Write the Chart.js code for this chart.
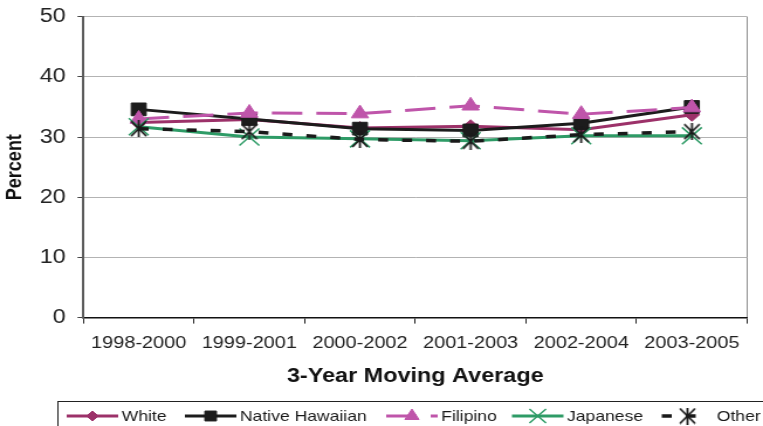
<!DOCTYPE html>
<html><head><meta charset="utf-8">
<script src="https://cdn.jsdelivr.net/npm/chart.js@4.4.1/dist/chart.umd.min.js"></script>
<style>html,body{margin:0;padding:0;background:#fff;overflow:hidden}canvas{display:block}</style>
</head>
<body>
<canvas id="c" width="652" height="426" style="width:763px;height:426px"></canvas>
<script>
const categories = ['1998-2000','1999-2001','2000-2002','2001-2003','2002-2004','2003-2005'];
const white          = [32.4, 32.9, 31.5, 31.8, 31.2, 33.7];
const nativeHawaiian = [34.6, 33.0, 31.4, 31.1, 32.3, 35.0];
const filipino       = [33.0, 34.0, 33.9, 35.2, 33.8, 34.9];
const japanese       = [31.7, 30.0, 29.7, 29.4, 30.2, 30.2];
const other          = [31.4, 30.9, 29.6, 29.3, 30.4, 30.9];
const yTicks = [0, 10, 20, 30, 40, 50];
const seriesNames = ['White', 'Native Hawaiian', 'Filipino', 'Japanese', 'Other'];
const yTitle = 'Percent';
const xTitle = '3-Year Moving Average';

const FONT = '"Liberation Sans", Arial, sans-serif';
Chart.defaults.font.family = FONT;

function makeAsterisk(w, h, color, lw) {
  const c = document.createElement('canvas');
  c.width = w; c.height = h;
  const g = c.getContext('2d');
  g.strokeStyle = color; g.lineWidth = lw;
  g.beginPath();
  g.moveTo(1, 1); g.lineTo(w - 1, h - 1);
  g.moveTo(w - 1, 1); g.lineTo(1, h - 1);
  g.moveTo(w / 2, 0); g.lineTo(w / 2, h);
  g.stroke();
  return c;
}
const asterisk = makeAsterisk(15, 17, '#1a1a1a', 1.8);

const COLORS = ['#9C3169', '#1c1c1c', '#BF55AA', '#2E9B66', '#1a1a1a'];

const LEG_X = [57, 158, 330, 437.5, 565.5];
const LEG_LEN = [44, 44, 44, 44, 29];
const LEG_TEXT_GAP = [3, 3, 3, 3, 18];
const LEG_R = [5, 7, 7, 10, 0];

const legendPlugin = {
  id: 'customLegend',
  afterDraw(chart) {
    const ctx = chart.ctx;
    ctx.save();
    ctx.strokeStyle = '#222'; ctx.lineWidth = 1;
    ctx.strokeRect(49.5, 401.5, 700, 60);
    const y = 416;
    chart.data.datasets.forEach((ds, i) => {
      const x0 = LEG_X[i], x1 = x0 + LEG_LEN[i];
      const xm = x0 + 22;
      ctx.save();
      ctx.strokeStyle = ds.borderColor; ctx.lineWidth = ds.borderWidth;
      ctx.setLineDash(ds.borderDash || []);
      ctx.beginPath(); ctx.moveTo(x0, y); ctx.lineTo(x1, y); ctx.stroke();
      ctx.restore();
      ctx.save();
      ctx.fillStyle = ds.pointBackgroundColor; ctx.strokeStyle = ds.pointBorderColor;
      ctx.lineWidth = ds.pointBorderWidth;
      Chart.helpers.drawPoint(ctx, {pointStyle: ds.pointStyle, radius: LEG_R[i], rotation: 0, borderWidth: ds.pointBorderWidth}, xm, y);
      ctx.restore();
      ctx.fillStyle = '#1a1a1a'; ctx.font = '15px ' + FONT;
      ctx.textBaseline = 'middle'; ctx.textAlign = 'left';
      ctx.fillText(ds.label, x1 + LEG_TEXT_GAP[i], y + 1);
    });
    ctx.restore();
  }
};

function ds(i, data, extra) {
  return Object.assign({
    label: seriesNames[i], data: data,
    borderColor: COLORS[i], backgroundColor: COLORS[i],
    pointBackgroundColor: COLORS[i], pointBorderColor: COLORS[i],
    borderWidth: 3, pointBorderWidth: 1, tension: 0, order: 5 - i
  }, extra);
}

new Chart(document.getElementById('c'), {
  type: 'line',
  data: {
    labels: categories,
    datasets: [
      ds(0, white, {pointStyle: 'rectRot', pointRadius: 6.5}),
      ds(1, nativeHawaiian, {pointStyle: 'rect', pointRadius: 9}),
      ds(2, filipino, {pointStyle: 'triangle', pointRadius: 8.5, borderDash: [26, 12]}),
      ds(3, japanese, {pointStyle: 'crossRot', pointRadius: 12, pointBorderWidth: 1.5}),
      ds(4, other, {pointStyle: asterisk, pointRadius: 8, borderDash: [8.5, 12], borderWidth: 3.5})
    ]
  },
  options: {
    responsive: false,
    devicePixelRatio: 1,
    animation: false,
    layout: {padding: {left: 0, right: 13.5, top: 16.7, bottom: 38}},
    plugins: {legend: {display: false}, tooltip: {enabled: false}},
    scales: {
      x: {
        type: 'category', offset: true,
        grid: {
          offset: true, drawOnChartArea: true, lineWidth: 1,
          color: c => (c.tick ? 'rgba(0,0,0,0)' : '#8c8c8c'),
          tickColor: '#222', tickLength: 6
        },
        border: {color: '#111', width: 1.5},
        ticks: {color: '#222', font: {size: 17}, padding: 10, maxRotation: 0, autoSkip: false},
        title: {display: true, text: xTitle, color: '#111', font: {size: 20, weight: 'bold'}, padding: {top: 0, bottom: 0}}
      },
      y: {
        min: 0, max: 50,
        afterBuildTicks: s => { s.ticks = yTicks.map(v => ({value: v})); },
        grid: {color: '#b3b3b3', tickColor: '#444', tickLength: 5, lineWidth: 1},
        border: {color: '#5a5a5a', width: 2},
        ticks: {color: '#222', font: {size: 20, lineHeight: 0.67}, padding: 10},
        title: {display: true, text: yTitle, color: '#111', font: {size: 18, weight: 'bold'}, padding: {top: 2.4, bottom: 0}}
      }
    }
  },
  plugins: [legendPlugin]
});
</script>
</body></html>
